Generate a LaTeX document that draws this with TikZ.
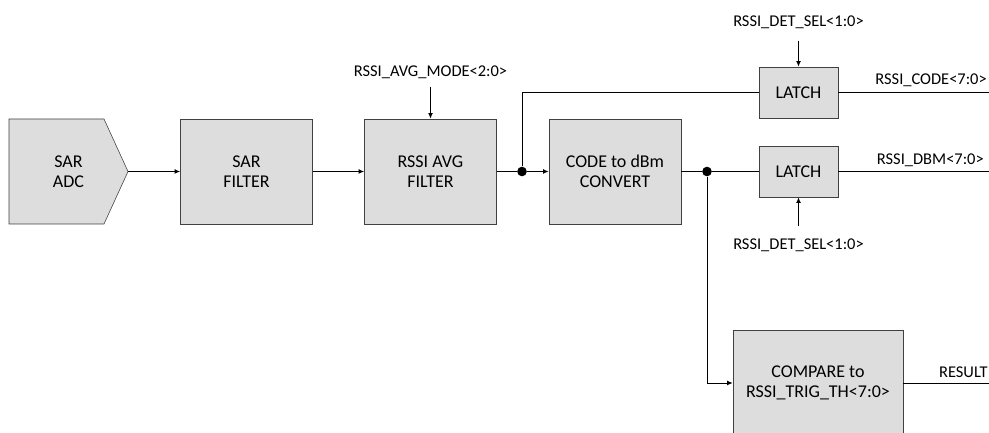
\documentclass[tikz,border=0pt]{standalone}
\usepackage{fontspec}
\setmainfont{Carlito}
\usetikzlibrary{arrows.meta}
\definecolor{boxgray}{RGB}{221,221,221}

\begin{document}
\begin{tikzpicture}[
    blk/.style={draw=black!75, fill=boxgray, minimum width=3.3cm, minimum height=2.625cm,
      align=center, inner sep=0pt, font=\fontsize{12.8}{14.5}\selectfont},
    latch/.style={blk, minimum width=1.975cm, minimum height=1.275cm},
    lbl/.style={inner sep=0pt, font=\fontsize{11.7}{14}\selectfont},
    dot/.style={circle, fill=black, inner sep=0pt, minimum size=0.24cm},
    wire/.style={line width=0.7pt},
    sig/.style={wire, -{Latex[length=4pt,width=3.5pt]}}
  ]
      \useasboundingbox (0,0) rectangle (24.725,10.825);
      % adc outline, text node on top
      \draw[draw=black!75, fill=boxgray] (0.225,7.85) -- (2.6,7.85) -- (3.2,6.5375)
        -- (2.6,5.225) -- (0.225,5.225) -- cycle;
      \node[align=center, inner sep=0pt, minimum width=2.975cm, minimum height=2.625cm,
        font=\fontsize{12.8}{14.5}\selectfont] (adc) at (1.7125,6.5375) {SAR\\ADC};
      \node[blk] (sarf) at (6.1625,6.5375) {SAR\\FILTER};
      \node[blk] (avg) at (10.7625,6.5375) {RSSI AVG\\FILTER};
      \node[blk] (conv) at (15.375,6.5375) {CODE to dBm\\CONVERT};
      \node[latch] (l1) at (19.9625,8.5125) {LATCH};
      \node[latch] (l2) at (19.9625,6.5375) {LATCH};
      \node[blk, minimum width=4.25cm] (cmp) at (20.45,1.25) {COMPARE to\\RSSI\_TRIG\_TH<7:0>};
      \node[dot] (d1) at (13.05,6.5375) {};
      \node[dot] (d2) at (17.675,6.5375) {};
      % control inputs
      \node[lbl] (mode) at (10.7625,9.025) {RSSI\_AVG\_MODE<2:0>};
      \node[lbl] (sel1) at (19.9625,10.275) {RSSI\_DET\_SEL<1:0>};
      \node[lbl] (sel2) at (19.9625,4.7) {RSSI\_DET\_SEL<1:0>};
      % outputs
      \coordinate (o1) at (24.725,8.5125);
      \coordinate (o2) at (24.725,6.5375);
      \coordinate (o3) at (24.725,1.25);
      \node[lbl, anchor=east] (code) at (24.675,8.825) {RSSI\_CODE<7:0>};
      \node[lbl, anchor=east] (dbm) at (24.6,6.825) {RSSI\_DBM<7:0>};
      \node[lbl, anchor=east] (res) at (24.7,1.53) {RESULT};
      % signal path
      \draw[sig] (adc) -- (sarf);
      \draw[sig] (sarf) -- (avg);
      \draw[wire] (avg) -- (d1);
      \draw[sig] (d1) -- (conv);
      \draw[wire] (d1) |- (l1);
      \draw[wire] (conv) -- (d2);
      \draw[wire] (d2) -- (l2);
      \draw[sig] (d2) |- (cmp);
      \draw[wire] (l1) -- (o1);
      \draw[wire] (l2) -- (o2);
      \draw[wire] (cmp) -- (o3);
      \draw[sig, shorten <=0.2cm] (mode) -- (avg);
      \draw[sig, shorten <=0.3cm] (sel1) -- (l1);
      \draw[sig, shorten <=0.3cm] (sel2) -- (l2);
    \end{tikzpicture}
\end{document}
